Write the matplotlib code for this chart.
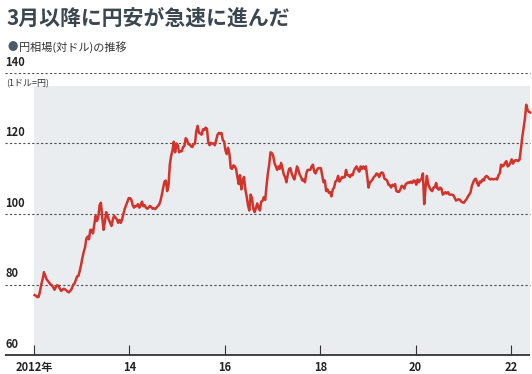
import numpy as np
import matplotlib.pyplot as plt

plt.rcParams['font.family'] = ['Noto Sans CJK JP', 'DejaVu Sans']

# -----------------------------
# data: yen per dollar, three readings per month (early / mid / late)
# -----------------------------
usd_2012 = [77.0, 76.8, 76.4, 76.5, 78.0, 80.0, 81.5, 83.5, 82.5, 81.5, 81.0, 80.5,
            80.0, 79.8, 79.2, 78.5, 79.3, 79.8, 79.6, 78.8, 78.2, 78.5, 78.8, 78.6,
            78.3, 77.9, 77.8, 78.3, 78.8, 79.9, 80.2, 81.2, 82.3, 82.4, 83.8, 85.5]
usd_2013 = [87.5, 89.2, 90.5, 93.0, 93.6, 92.8, 95.5, 95.5, 94.5, 97.0, 99.5, 98.0,
            99.0, 102.5, 103.2, 99.0, 95.5, 97.8, 100.5, 99.5, 98.3, 97.5, 96.6, 98.5,
            99.5, 99.0, 98.5, 97.5, 98.3, 97.5, 98.5, 100.0, 101.5, 102.5, 103.5, 104.5]
usd_2014 = [104.5, 104.0, 102.5, 101.8, 102.3, 102.2, 102.8, 101.8, 102.5, 103.5, 102.2, 102.5,
            101.8, 101.5, 101.8, 102.3, 102.0, 101.5, 101.6, 101.4, 101.8, 102.3, 102.7, 103.8,
            105.5, 107.5, 109.2, 109.5, 106.5, 108.0, 114.0, 116.5, 118.0, 120.5, 117.5, 120.0]
usd_2015 = [119.5, 117.5, 117.8, 117.8, 119.0, 119.3, 121.5, 121.0, 119.8, 119.8, 119.2, 119.0,
            119.8, 120.0, 123.5, 125.0, 123.0, 122.8, 122.5, 124.0, 123.8, 124.5, 124.2, 120.5,
            119.5, 120.2, 120.0, 120.0, 119.5, 121.0, 122.5, 123.0, 122.8, 123.0, 121.0, 120.5]
usd_2016 = [118.0, 117.0, 118.8, 117.0, 113.0, 112.8, 113.8, 113.5, 112.8, 110.5, 108.5, 111.0,
            107.0, 109.5, 110.5, 107.0, 105.0, 102.5, 101.0, 105.5, 104.5, 101.5, 100.5, 101.8,
            103.0, 101.8, 101.0, 103.5, 103.8, 104.8, 104.0, 108.0, 111.5, 114.0, 117.5, 117.3]
usd_2017 = [116.5, 114.5, 113.5, 112.5, 113.5, 112.8, 114.5, 113.0, 111.2, 110.5, 109.0, 111.2,
            112.8, 113.0, 111.5, 110.5, 109.8, 111.5, 113.5, 112.5, 111.2, 110.5, 109.5, 109.8,
            109.0, 111.5, 112.5, 112.5, 112.5, 113.5, 114.0, 112.0, 111.5, 112.5, 113.0, 113.0]
usd_2018 = [113.0, 111.0, 109.0, 109.5, 106.5, 107.0, 106.0, 106.2, 105.0, 107.0, 107.5, 109.2,
            109.5, 110.8, 109.2, 109.8, 110.5, 110.3, 110.5, 112.5, 111.0, 111.0, 110.5, 111.2,
            111.0, 112.3, 113.0, 113.5, 112.5, 112.0, 113.5, 112.8, 113.5, 112.8, 113.5, 110.5]
usd_2019 = [107.5, 109.0, 109.3, 109.8, 110.5, 110.8, 111.5, 111.3, 110.5, 111.5, 111.8, 111.5,
            110.0, 109.8, 109.5, 108.3, 108.2, 107.5, 108.3, 108.0, 108.5, 106.5, 106.3, 106.3,
            107.0, 108.0, 107.8, 107.2, 108.5, 108.7, 109.0, 108.8, 109.2, 108.8, 109.5, 109.4]
usd_2020 = [108.3, 109.8, 109.0, 109.7, 110.0, 111.5, 102.8, 107.5, 110.8, 108.5, 107.5, 106.8,
            106.5, 107.5, 107.6, 108.8, 107.2, 106.9, 107.5, 107.2, 105.5, 105.8, 106.2, 105.8,
            106.2, 105.5, 105.5, 105.5, 105.3, 104.6, 103.8, 104.0, 104.2, 104.0, 103.5, 103.3]
usd_2021 = [103.2, 103.8, 104.2, 105.0, 105.5, 106.2, 108.0, 109.0, 109.8, 110.0, 108.8, 108.0,
            109.2, 109.0, 109.8, 109.5, 110.5, 110.8, 110.5, 110.0, 109.8, 110.0, 109.8, 109.9,
            110.0, 109.8, 111.0, 111.5, 114.0, 113.5, 113.8, 114.5, 115.0, 113.5, 113.8, 114.5]
usd_2022 = [115.5, 114.3, 115.0, 115.3, 115.2, 115.0, 115.5, 118.5, 121.8, 124.5, 127.0, 131.0,
            129.5, 129.0, 128.8]

years = [2012, 2013, 2014, 2015, 2016, 2017, 2018, 2019, 2020, 2021, 2022]
series = [usd_2012, usd_2013, usd_2014, usd_2015, usd_2016, usd_2017,
          usd_2018, usd_2019, usd_2020, usd_2021, usd_2022]

y_ticks = [60, 80, 100, 120, 140]
x_ticks = [2012, 2014, 2016, 2018, 2020, 2022]
x_labels = ['2012年', '14', '16', '18', '20', '22']

# time axis: thirds of a month
x = np.concatenate([yr + (np.arange(len(v)) + 0.5) / 36 for yr, v in zip(years, series)])
y = np.concatenate(series)

# -----------------------------
# figure layout (pixel based)
# -----------------------------
W, H = 532, 374
PX_YEAR = 47.7
X0 = 2012 - 34 / PX_YEAR
X1 = 2012 + (W - 34) / PX_YEAR
x_left = X0 + 5 / PX_YEAR
x_right = X0 + 530 / PX_YEAR

fig = plt.figure(figsize=(W / 100, H / 100), dpi=100)
ax = fig.add_axes([0, 1 - 355 / H, 1, 282 / H])
ax.set_xlim(X0, X1)
ax.set_ylim(60, 140)
for s in ax.spines.values():
    s.set_visible(False)

# shaded plot area
ax.axvspan(2012, x_right, ymin=0, ymax=(136.3 - 60) / 80, color='#e9edf0', lw=0, zorder=0)

# dashed grid + baseline
ax.hlines(y_ticks[1:], x_left, x_right, colors='#4d4d4d', linestyles=(0, (2, 2)), lw=0.8, zorder=1)
ax.hlines(60, x_left, x_right, colors='#333333', lw=1.3, zorder=3, clip_on=False)

ax.plot(x, y, color='#d2342c', lw=1.8, solid_joinstyle='round', zorder=4)

# ticks
ax.set_xticks(x_ticks)
ax.set_xticklabels(x_labels)
ax.set_yticks([])
ax.tick_params(axis='x', direction='in', length=7, width=0.8, color='#333333', pad=4,
               labelsize=8, labelcolor='#222222')
num_font = ['Liberation Sans Narrow', 'Noto Sans CJK JP']
for lab in ax.get_xticklabels():
    lab.set_family(num_font)
    lab.set_fontweight('bold')

for v in y_ticks:
    ax.text(5 / W, v + 1.2, str(v), transform=ax.get_yaxis_transform(),
            ha='left', va='bottom', fontsize=8, fontweight='bold', color='#222222',
            family=num_font)

# titles
fig.text(7 / W, 1 - 18 / H, '3月以降に円安が急速に進んだ', ha='left', va='center',
         fontsize=15, fontweight='bold', color='#3a4650')
fig.text(7 / W, 1 - 47 / H, '●', ha='left', va='center', fontsize=7.5, color='#4a5a66')
fig.text(19 / W, 1 - 47 / H, '円相場(対ドル)の推移', ha='left', va='center',
         fontsize=8, color='#333333')
fig.text(6 / W, 1 - 84 / H, '(1ドル=円)', ha='left', va='center', fontsize=6.5, color='#333333')

fig.savefig('out.png', dpi=100)
